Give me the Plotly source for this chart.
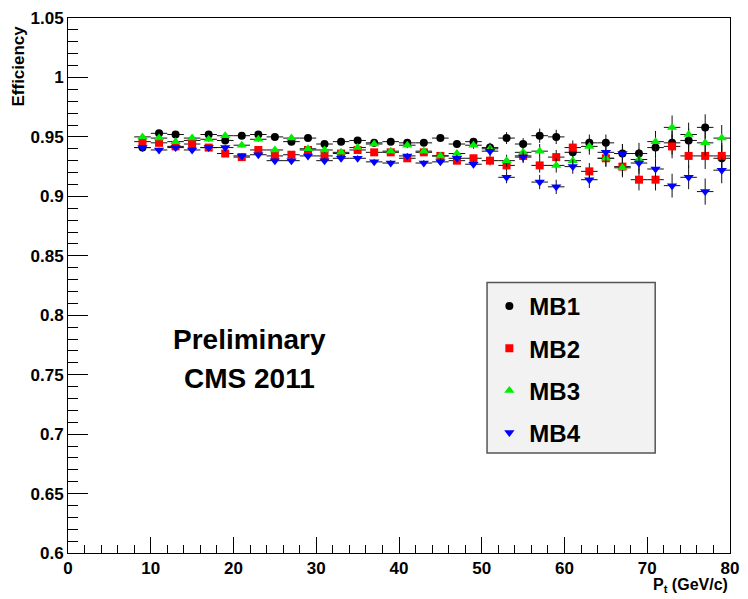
import plotly.graph_objects as go

# Muon chamber station efficiency vs transverse momentum
pt = [9, 11, 13, 15, 17, 19, 21, 23, 25, 27, 29, 31, 33, 35, 37, 39, 41, 43,
      45, 47, 49, 51, 53, 55, 57, 59, 61, 63, 65, 67, 69, 71, 73, 75, 77, 79]
pt_halfwidth = [1] * len(pt)

mb1 = [0.941, 0.953, 0.952, 0.947, 0.952, 0.947, 0.951, 0.952, 0.950, 0.946,
       0.949, 0.944, 0.946, 0.947, 0.945, 0.946, 0.945, 0.945, 0.949, 0.944,
       0.946, 0.941, 0.949, 0.944, 0.951, 0.950, 0.937, 0.945, 0.945, 0.936,
       0.936, 0.941, 0.945, 0.947, 0.958, 0.932]
mb2 = [0.946, 0.945, 0.942, 0.944, 0.941, 0.936, 0.933, 0.939, 0.934, 0.935,
       0.939, 0.934, 0.936, 0.939, 0.937, 0.937, 0.932, 0.937, 0.934, 0.930,
       0.932, 0.930, 0.926, 0.934, 0.926, 0.933, 0.941, 0.921, 0.932, 0.925,
       0.914, 0.914, 0.942, 0.934, 0.934, 0.934]
mb3 = [0.950, 0.949, 0.946, 0.949, 0.948, 0.951, 0.943, 0.948, 0.939, 0.949,
       0.940, 0.939, 0.937, 0.941, 0.944, 0.938, 0.943, 0.938, 0.934, 0.936,
       0.943, 0.940, 0.930, 0.937, 0.938, 0.926, 0.930, 0.942, 0.932, 0.924,
       0.931, 0.946, 0.958, 0.952, 0.945, 0.949]
mb4 = [0.941, 0.939, 0.941, 0.939, 0.941, 0.941, 0.934, 0.935, 0.930, 0.930,
       0.934, 0.930, 0.932, 0.932, 0.929, 0.928, 0.934, 0.928, 0.929, 0.932,
       0.927, 0.938, 0.916, 0.933, 0.912, 0.908, 0.925, 0.914, 0.937, 0.936,
       0.928, 0.923, 0.909, 0.916, 0.904, 0.922]
eff_err = [0.002, 0.002, 0.002, 0.002, 0.002, 0.002, 0.002, 0.002, 0.002, 0.002,
           0.002, 0.0025, 0.0025, 0.0025, 0.0025, 0.0025, 0.0025, 0.0025, 0.0025,
           0.003, 0.003, 0.004, 0.005, 0.005, 0.006, 0.006, 0.006, 0.007, 0.007,
           0.008, 0.009, 0.009, 0.010, 0.010, 0.011, 0.011]

series_names = ["MB1", "MB2", "MB3", "MB4"]
series_values = [mb1, mb2, mb3, mb4]
series_colors = ["#000000", "#ff0000", "#00ee00", "#0000ff"]
series_symbols = ["circle", "square", "triangle-up", "triangle-down"]
series_sizes = [8, 8, 9, 9]

y_ticks = [0.6, 0.65, 0.7, 0.75, 0.8, 0.85, 0.9, 0.95, 1.0, 1.05]
y_tick_text = ["0.6", "0.65", "0.7", "0.75", "0.8", "0.85", "0.9", "0.95", "1", "1.05"]
x_ticks = [0, 10, 20, 30, 40, 50, 60, 70, 80]

FONT = "Liberation Sans, Arial, Helvetica, sans-serif"

fig = go.Figure()
for i, (name, vals) in enumerate(zip(series_names, series_values)):
    fig.add_trace(go.Scatter(
        x=pt, y=vals, name=name, mode="markers", legendgroup=name,
        marker=dict(symbol=series_symbols[i], size=series_sizes[i],
                    color=series_colors[i], line=dict(width=0)),
        error_y=dict(type="data", array=eff_err, color="#111111",
                     thickness=1, width=0),
        error_x=dict(type="data", array=pt_halfwidth, color="#111111",
                     thickness=1, width=0),
    ))

axis_common = dict(showgrid=False, zeroline=False, showline=True, mirror=True,
                   linecolor="black", linewidth=1, ticks="inside",
                   tickcolor="black", tickwidth=1,
                   tickfont=dict(family=FONT, size=17, color="black", weight="bold"))

fig.update_xaxes(range=[0, 80], tickvals=x_ticks, ticklen=16,
                 minor=dict(dtick=2, ticklen=8, ticks="inside", tickcolor="black"),
                 **axis_common)
fig.update_yaxes(range=[0.6, 1.05], tickvals=y_ticks, ticktext=y_tick_text, ticklen=20,
                 minor=dict(dtick=0.01, ticklen=10, ticks="inside", tickcolor="black"),
                 **axis_common)

bold = dict(family=FONT, color="black", weight="bold")
fig.update_layout(
    width=748, height=599,
    margin=dict(l=68, r=9, t=13, b=46),
    paper_bgcolor="white", plot_bgcolor="white",
    showlegend=True,
    legend=dict(x=0.6365, y=0.503, xanchor="left", yanchor="top",
                bgcolor="rgba(0,0,0,0)", borderwidth=0,
                font=dict(size=24, **bold), tracegroupgap=8,
                traceorder="grouped", itemsizing="trace"),
    shapes=[dict(type="rect", xref="paper", yref="paper",
                 x0=0.633, x1=0.887, y0=0.187, y1=0.5055, layer="below",
                 fillcolor="#f2f2f2", line=dict(color="#555555", width=1.5))],
    annotations=[
        dict(text="Efficiency", xref="paper", yref="paper", x=-0.0745, y=0.99,
             xanchor="center", yanchor="top", textangle=-90, showarrow=False,
             font=dict(size=17, **bold)),
        dict(text="P<sub>t</sub> (GeV/c)", xref="paper", yref="paper", x=1.0,
             y=-0.0815, xanchor="right", yanchor="bottom", showarrow=False,
             font=dict(size=16, **bold)),
        dict(text="Preliminary", xref="paper", yref="paper", x=0.274, y=0.4,
             xanchor="center", yanchor="middle", showarrow=False,
             font=dict(size=28, **bold)),
        dict(text="CMS 2011", xref="paper", yref="paper", x=0.274, y=0.326,
             xanchor="center", yanchor="middle", showarrow=False,
             font=dict(size=28, **bold)),
    ],
)

fig.write_html("out.html")
